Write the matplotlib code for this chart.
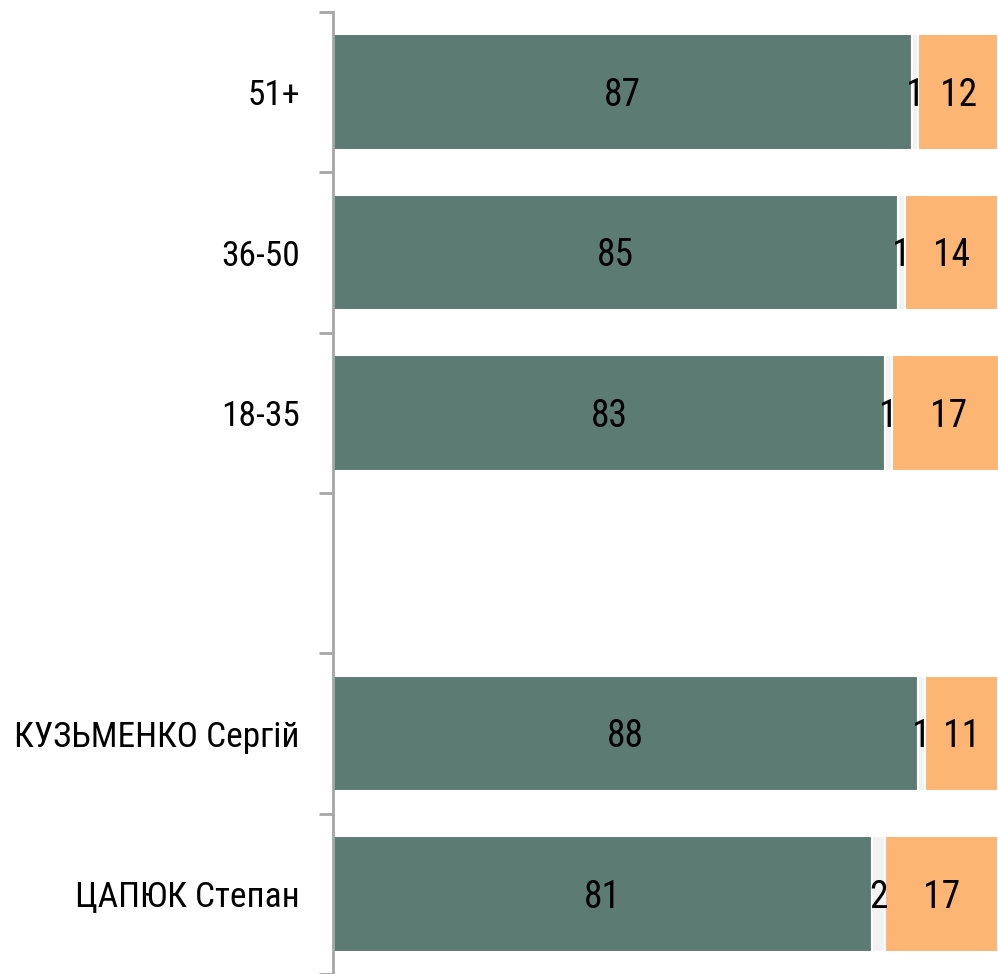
import numpy as np
import matplotlib.pyplot as plt

plt.rcParams['font.family'] = ['Roboto Condensed', 'Archivo Narrow', 'Liberation Sans', 'DejaVu Sans']

categories = ['51+', '36-50', '18-35', '', 'КУЗЬМЕНКО Сергій', 'ЦАПЮК Степан']
green = [87, 85, 83, None, 88, 81]
gray = [1, 1, 1, None, 1, 2]
orange = [12, 14, 17, None, 11, 17]

colors = ['#5B7B73', '#F2F2F2', '#FDB574']

fig = plt.figure(figsize=(9.98, 9.74), dpi=100)
ax = fig.add_axes([333 / 998, 0, 665 / 998, 962 / 974])

y = np.arange(len(categories))
for i in range(len(categories)):
    if green[i] is None:
        continue
    left = 0
    for val, col in zip([green[i], gray[i], orange[i]], colors):
        ax.barh(y[i], val, left=left, height=0.72, color=col, edgecolor='white', linewidth=1.5)
        ax.text(left + val / 2, y[i] + 0.02, str(val), ha='center', va='center', fontsize=27, color='black')
        left += val

ax.set_xlim(0, 100)
ax.set_ylim(len(categories) - 0.5, -0.5)
ax.set_yticks(y)
ax.set_yticklabels(categories, fontsize=25.5)
ax.set_yticks(np.arange(len(categories) + 1) - 0.5, minor=True)
ax.tick_params(axis='y', which='major', length=0, pad=24)
ax.tick_params(axis='y', which='minor', length=10, width=2, color='#A6A6A6')
ax.set_xticks([])
for s in ['top', 'right', 'bottom']:
    ax.spines[s].set_visible(False)
ax.spines['left'].set_color('#A6A6A6')
ax.spines['left'].set_linewidth(2)

plt.savefig('out.png')
